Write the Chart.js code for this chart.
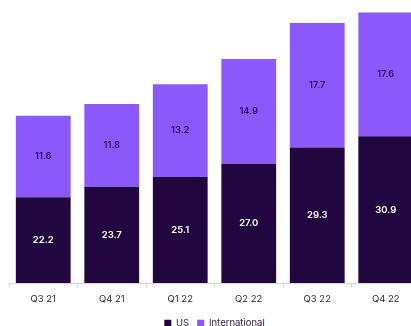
<!DOCTYPE html>
<html>
<head>
<meta charset="utf-8">
<script src="https://cdn.jsdelivr.net/npm/chart.js@4/dist/chart.umd.min.js"></script>
<style>
html,body{margin:0;padding:0;background:#fff;overflow:hidden;width:411px;height:326px;}
canvas{display:block;}
</style>
</head>
<body>
<canvas id="c" width="432" height="338"></canvas>
<script>
const categories = ["Q3 21", "Q4 21", "Q1 22", "Q2 22", "Q3 22", "Q4 22"];
const usValues = [22.2, 23.7, 25.1, 27.0, 29.3, 30.9];
const intlValues = [11.6, 11.8, 13.2, 14.9, 17.7, 17.6];
const seriesNames = ["US", "International"];

const US_COLOR = "#22063f";
const INTL_COLOR = "#8a58fb";

const labelPlugin = {
  id: "barLabels",
  afterDatasetsDraw(chart) {
    const ctx = chart.ctx;
    const bottom = chart.chartArea.bottom;
    ctx.save();
    ctx.textAlign = "center";
    ctx.textBaseline = "middle";
    chart.data.datasets.forEach((ds, i) => {
      const meta = chart.getDatasetMeta(i);
      meta.data.forEach((bar, j) => {
        const p = bar.getProps(["x", "y", "base"], true);
        const base = Math.min(p.base, bottom);
        ctx.fillStyle = i === 0 ? "#ffffff" : "#2a0a4a";
        ctx.font = (i === 0 ? "600 " : "500 ") + "9.5px Inter, sans-serif";
        ctx.fillText(ds.data[j].toFixed(1), p.x, (p.y + base) / 2);
      });
    });
    ctx.restore();
  }
};

new Chart(document.getElementById("c"), {
  type: "bar",
  data: {
    labels: categories,
    datasets: [
      { label: seriesNames[0], data: usValues, backgroundColor: US_COLOR, barPercentage: 0.8, categoryPercentage: 1.0 },
      { label: seriesNames[1], data: intlValues, backgroundColor: INTL_COLOR, barPercentage: 0.8, categoryPercentage: 1.0 }
    ]
  },
  options: {
    responsive: false,
    animation: false,
    layout: { padding: { left: 9, right: 12, top: 2, bottom: 0 } },
    plugins: {
      legend: {
        position: "bottom",
        labels: {
          boxWidth: 7, boxHeight: 7, padding: 8,
          color: "#2a1a3a",
          font: { family: "Inter, sans-serif", size: 9.5 }
        }
      },
      tooltip: { enabled: false }
    },
    scales: {
      x: {
        stacked: true,
        offset: true,
        grid: { display: true, offset: true, drawOnChartArea: false, tickLength: 4, color: "#d8d8d8" },
        border: { display: true, color: "#d8d8d8" },
        ticks: { color: "#2a2a2a", font: { family: "Inter, sans-serif", size: 9.5 }, padding: 6 }
      },
      y: {
        stacked: true,
        display: false,
        min: 10,
        max: 50
      }
    }
  },
  plugins: [labelPlugin]
});
</script>
</body>
</html>
